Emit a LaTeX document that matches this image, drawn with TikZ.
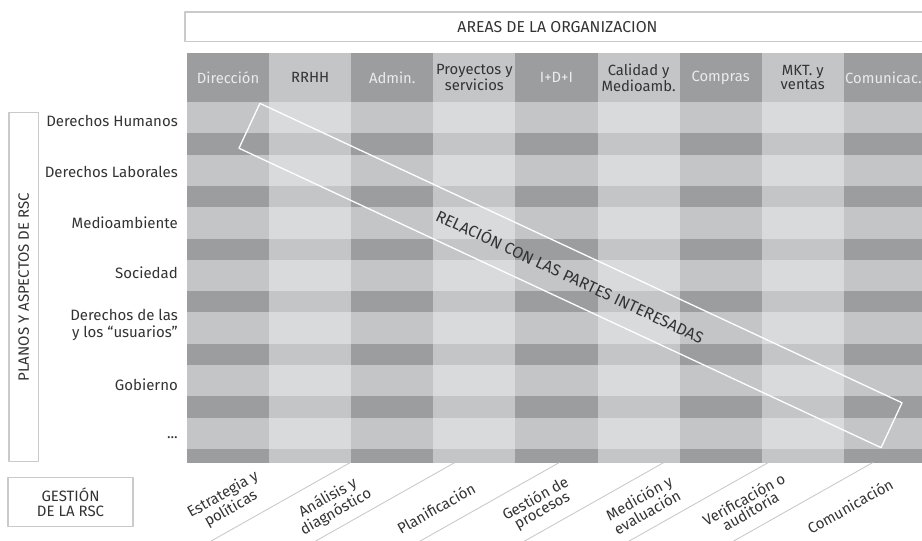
\documentclass[tikz,border=0pt]{standalone}
\usepackage{fontspec}
\setmainfont{Fira Sans}
\definecolor{gdark}{HTML}{9C9D9F}
\definecolor{gmid}{HTML}{C4C5C7}
\definecolor{glight}{HTML}{D9DADC}
\definecolor{gline}{HTML}{CACACA}
\definecolor{gtext}{HTML}{333333}
\begin{document}
\begin{tikzpicture}[x=1pt, y=-1pt, font=\fontsize{15}{15}\selectfont, line join=round, line cap=round,
  hdark/.style={text=white!92!black, align=center, font=\fontsize{14.8}{12}\selectfont},
  hmid/.style={text=gtext, align=center, font=\fontsize{14.8}{12}\selectfont},
  rowlab/.style={text=gtext, anchor=east, align=right, inner sep=0pt, font=\fontsize{15}{16.5}\selectfont},
  botlab/.style={text=gtext, align=center, rotate=29.4, inner sep=1pt, font=\fontsize{15}{13.5}\selectfont},
  graybox/.style={draw=gline, line width=1.2pt, text=gtext, align=center, inner sep=0pt}]
\useasboundingbox (0,0) rectangle (922,541);
\clip (0,0) rectangle (922,541);
\fill[gmid] (187,53) rectangle (930,462.7);
\begin{scope}
\clip (187,53) rectangle (930,462.7);
\foreach \i in {0,2,4,6,8}{
  \fill[gdark] ({187+82.1*\i},53) rectangle ++(82.1,49);
  \foreach \k in {0,...,6}
    \fill[gdark] ({187+82.1*\i},{133.3+52.6*\k}) rectangle ++(82.1,21.3);
}
\foreach \i in {1,3,5,7}
  \foreach \k in {0,...,6}
    \fill[glight] ({187+82.1*\i},{102+52.6*\k}) rectangle ++(82.1,31.3);
\end{scope}
\node[graybox, minimum width=745pt, minimum height=29.5pt, font=\fontsize{15.8}{15.8}\selectfont] (areas) at (557.5,26.8) {AREAS DE LA ORGANIZACION};
\node[hdark] (dir) at (228.05,77.5) {Dirección};
\node[hmid] (rrhh) at (310.15,77.5) {RRHH};
\node[hdark] (adm) at (392.25,77.5) {Admin.};
\node[hmid] (proy) at (474.35,77.5) {Proyectos y\\servicios};
\node[hdark] (idi) at (556.45,77.5) {I+D+I};
\node[hmid] (cal) at (638.55,77.5) {Calidad y\\Medioamb.};
\node[hdark] (comp) at (720.65,77.5) {Compras};
\node[hmid] (mkt) at (802.75,77.5) {MKT. y\\ventas};
\node[hdark] (comu) at (883.5,77.5) {Comunicac.};
\node[graybox, rotate=90, minimum width=349pt, minimum height=29.5pt] (planos) at (23.8,287.2) {PLANOS Y ASPECTOS DE RSC};
\node[rowlab] (dhum) at (178,121) {Derechos Humanos};
\node[rowlab] (dlab) at (178,172) {Derechos Laborales};
\node[rowlab] (medio) at (178,223) {Medioambiente};
\node[rowlab] (soc) at (178,273) {Sociedad};
\node[rowlab] (usu) at (178,325) {Derechos de las\\y los “usuarios”};
\node[rowlab] (gob) at (178,385) {Gobierno};
\node[rowlab] (etc) at (178,438) {...};
\node[draw=white, line width=1.3pt, rotate=-25, minimum width=708.5pt, minimum height=49.5pt, text=gtext, font=\fontsize{16}{16}\selectfont] (rel) at (570.5,275.5) {RELACIÓN CON LAS PARTES INTERESADAS};
\node[graybox, minimum width=125pt, minimum height=49pt, font=\fontsize{15}{15}\selectfont] (gest) at (70.5,502.2) {GESTIÓN\\DE LA RSC};
\foreach \k in {0,...,5}
  \draw[gline, line width=0.9pt] ({350+104.5*\k},462.7) -- ++(-140,79);
\node[botlab] (estr) at (227,502) {Estrategia y\\políticas};
\node[botlab] (anal) at (332,505) {Análisis y\\diagnóstico};
\node[botlab] (plan) at (436,508) {Planificación};
\node[botlab] (proc) at (539,505) {Gestión de\\procesos};
\node[botlab] (med) at (643,505) {Medición y\\evaluación};
\node[botlab] (verif) at (747,505) {Verificación o\\auditoría};
\node[botlab] (comun) at (850,506) {Comunicación};
\end{tikzpicture}
\end{document}
